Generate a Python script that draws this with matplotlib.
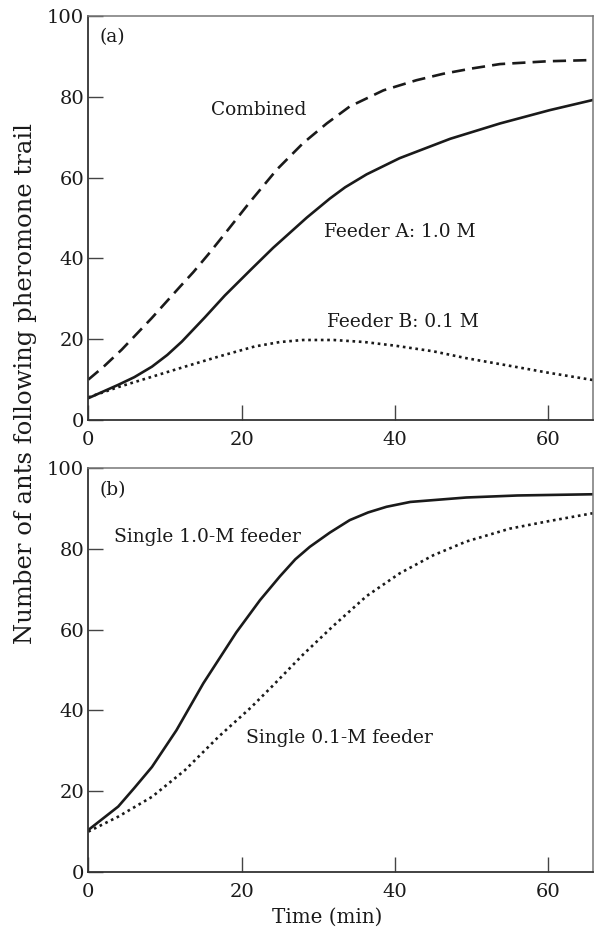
import matplotlib
matplotlib.use("Agg")
import matplotlib.pyplot as plt

plt.rcParams['font.family'] = ['DejaVu Serif']

# ---- data ----
t_comb = [0, 2, 4.35, 8.26, 11.96, 13.7, 15.65, 17.6, 19.35, 21.1, 24.6, 28, 31.1,
          34.1, 38.5, 42.8, 46.3, 50, 53.7, 60, 65.8]
combined = [10, 13.2, 17.4, 25.2, 33, 36.6, 41, 45.6, 49.8, 54, 62, 68.5, 73.4,
            77.6, 81.6, 84.1, 85.7, 87, 88.1, 88.8, 89.1]

t_a = [0, 3.9, 6, 8.3, 10.3, 12.2, 15.2, 17.8, 21.3, 24.1, 28.5, 31.5, 33.5, 36.3, 40.6,
       47.2, 53.7, 60.2, 65.8]
feeder_a = [5.4, 8.7, 10.6, 13.2, 16.1, 19.4, 25.4, 30.8, 37.4, 42.6, 50.1, 54.8, 57.6,
            60.8, 64.8, 69.6, 73.4, 76.7, 79.2]

t_b = [0, 4, 8.3, 12.6, 17, 21.7, 25, 28, 32, 36, 40, 45, 49.3, 55, 60, 65.8]
feeder_b = [5.6, 8.2, 10.7, 13.2, 15.7, 18.2, 19.3, 19.8, 19.8, 19.3, 18.4, 17, 15.3,
            13.4, 11.7, 9.9]

t_s1 = [0, 3.9, 6, 8.3, 11.5, 15, 19.3, 22.4, 25, 27, 28.9, 31.5, 34.1, 36.5, 38.9, 42,
        49.3, 56, 65.8]
single_10 = [10.4, 16.2, 20.8, 26, 35.1, 46.7, 59.3, 67.3, 73.2, 77.4, 80.5, 84, 87.1,
             89, 90.4, 91.6, 92.7, 93.2, 93.5]

t_s2 = [0, 3.9, 8.3, 12.6, 17, 21.2, 24, 28, 32, 36.3, 40.6, 45, 49.3, 55, 60.2, 65.8]
single_01 = [10, 13.7, 18.6, 25.2, 33.5, 40.7, 46, 53.8, 61, 68.3, 73.9, 78.4, 81.8,
             85, 86.9, 88.8]

x_ticks = [0, 20, 40, 60]
y_ticks = [0, 20, 40, 60, 80, 100]

FS = 14
FS_ANN = 13.4
fig = plt.figure(figsize=(5.98, 9.30), dpi=100)
ax1 = fig.add_axes([0.1477, 0.5484, 0.8435, 0.4344])
ax2 = fig.add_axes([0.1477, 0.06237, 0.8435, 0.4344])

lw = 1.9
lc = '#1a1a1a'
ax1.plot(t_comb, combined, color=lc, lw=lw, linestyle=(0, (5, 2.7)))
ax1.plot(t_a, feeder_a, color=lc, lw=lw, linestyle='-')
ax1.plot(t_b, feeder_b, color=lc, lw=lw, linestyle=(0, (1, 1.4)))

ax2.plot(t_s1, single_10, color=lc, lw=lw, linestyle='-')
ax2.plot(t_s2, single_01, color=lc, lw=lw, linestyle=(0, (1, 1.4)))

for ax in (ax1, ax2):
    ax.set_xlim(0, 65.8)
    ax.set_ylim(0, 100)
    ax.set_xticks(x_ticks)
    ax.set_yticks(y_ticks)
    ax.tick_params(axis='both', direction='in', length=11, width=1.0,
                   color='#444444', labelsize=FS, labelcolor=lc)
    ax.tick_params(axis='y', pad=3)
    ax.tick_params(axis='x', pad=8)
    for side in ('left', 'bottom'):
        ax.spines[side].set_color('#333333')
        ax.spines[side].set_linewidth(1.3)
    for side in ('top', 'right'):
        ax.spines[side].set_color('#777777')
        ax.spines[side].set_linewidth(1.1)

ax1.text(1.4, 94.8, '(a)', fontsize=FS_ANN, va='center', ha='left', color=lc)
ax1.text(16, 76.7, 'Combined', fontsize=FS_ANN, va='center', ha='left', color=lc)
ax1.text(30.8, 46.5, 'Feeder A: 1.0 M', fontsize=FS_ANN, va='center', ha='left', color=lc)
ax1.text(31.1, 24.3, 'Feeder B: 0.1 M', fontsize=FS_ANN, va='center', ha='left', color=lc)

ax2.text(1.4, 94.6, '(b)', fontsize=FS_ANN, va='center', ha='left', color=lc)
ax2.text(3.3, 83, 'Single 1.0-M feeder', fontsize=FS_ANN, va='center', ha='left', color=lc)
ax2.text(20.6, 33.2, 'Single 0.1-M feeder', fontsize=FS_ANN, va='center', ha='left', color=lc)

fig.text(26 / 598, 1 - 384 / 930, 'Number of ants following pheromone trail',
         rotation=90, fontsize=17.5, va='center', ha='center', color=lc)
fig.text(327 / 598, 1 - 917 / 930, 'Time (min)', fontsize=14.3, va='center',
         ha='center', color=lc)

fig.savefig('out.png', dpi=100)
